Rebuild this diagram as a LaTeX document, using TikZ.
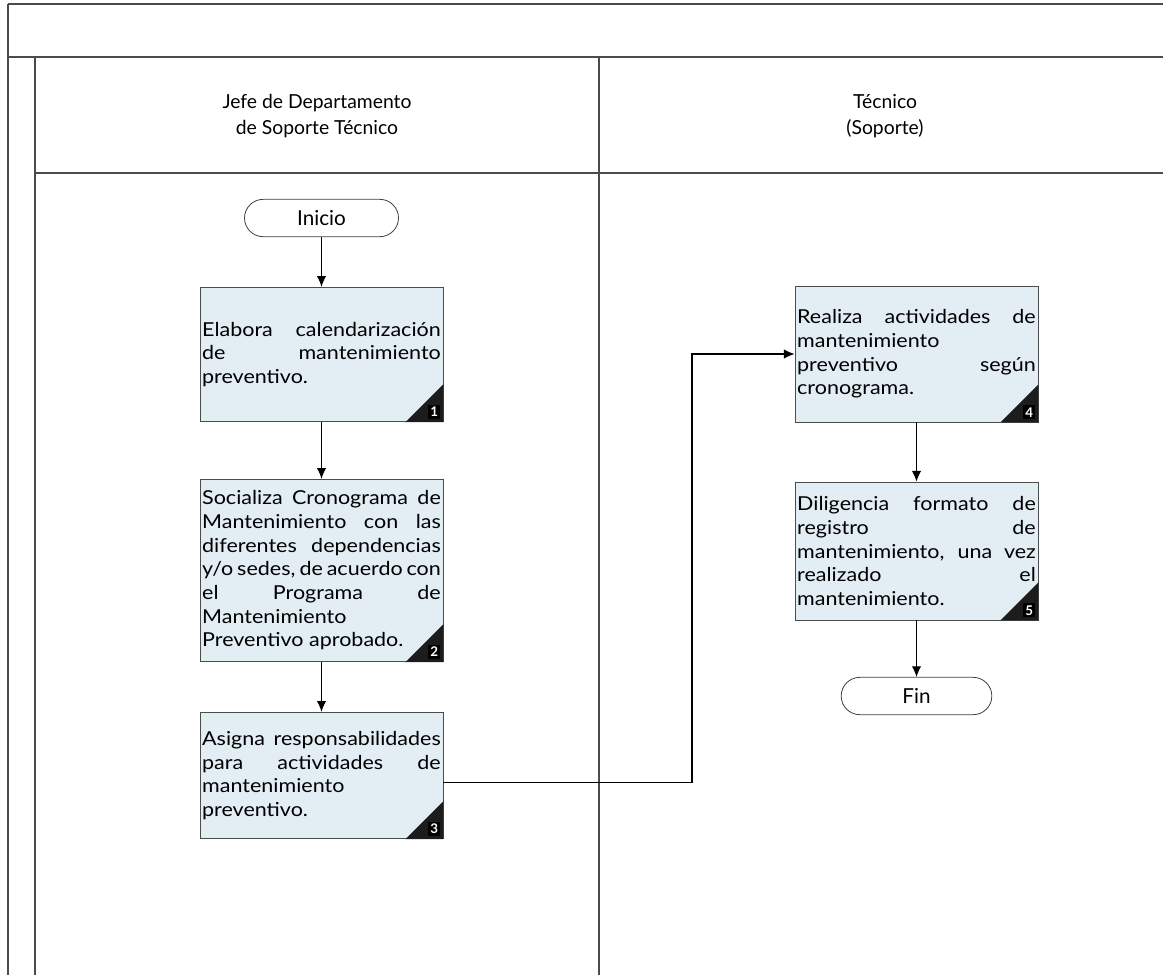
\documentclass[tikz,border=0pt]{standalone}
\usepackage{fontspec}
\setmainfont{Lato}[FakeStretch=1.12]
\newfontfamily\plainfont{Lato}
\usetikzlibrary{arrows.meta,calc}
\definecolor{boxfill}{RGB}{226,237,244}
\definecolor{framec}{RGB}{75,75,75}
\definecolor{cornerc}{RGB}{28,28,28}
\hyphenpenalty=10000
\exhyphenpenalty=10000
\tikzset{
  laneline/.style={draw=framec,line width=1pt},
  proc/.style={draw=black!70,line width=0.6pt,fill=boxfill,minimum width=182.25pt,
    text width=179pt,align=justify,inner xsep=1.6pt,inner ysep=2pt,
    font=\fontsize{14.4}{17.75}\selectfont},
  term/.style={draw=black!75,line width=0.6pt,rounded corners=14pt,minimum width=115pt,
    minimum height=28pt,inner sep=0pt,font=\plainfont\fontsize{15.5}{17}\selectfont},
  flow/.style={draw=black,line width=0.8pt,-{Latex[length=8pt,width=7pt]}},
  hdr/.style={align=center,font=\plainfont\fontsize{14.5}{19}\selectfont},
  badge/.style={fill=black,text=white,font=\plainfont\bfseries\fontsize{10}{10}\selectfont,inner sep=1.5pt}
}
\newcommand{\cornermark}[2]{%
  \fill[cornerc] (#1.south east) -- ++(-38,0) -- ++(38,-38) -- cycle;
  \node[badge,anchor=south east] (#1num) at ($(#1.south east)+(-3,-3)$) {#2};}
\begin{document}
\begin{tikzpicture}[x=0.75pt,y=-0.75pt]
\useasboundingbox (0,0) rectangle (1163,975);
% frame
\draw[laneline,line width=1.3pt] (8,4) -- (1163,4);
\draw[laneline] (8,57) -- (1163,57);
\draw[laneline] (35,173) -- (1163,173);
\draw[laneline] (8,4) -- (8,975);
\draw[laneline] (35,57) -- (35,975);
\draw[laneline] (599,57) -- (599,975);
% headers
\node[hdr] (h1) at (317,116) {Jefe de Departamento\\de Soporte Técnico};
\node[hdr] (h2) at (885,116) {Técnico\\(Soporte)};
% nodes
\node[term,minimum width=115.5pt] (ini) at (321.5,218) {Inicio};
\node[proc,minimum height=101pt] (b1) at (321.5,354.5) {Elabora calendarización\linebreak de mantenimiento\linebreak preventivo.};
\node[proc,minimum height=137pt] (b2) at (321.5,570.5) {Socializa Cronograma de\linebreak Mantenimiento con las\linebreak diferentes dependencias\linebreak {\spaceskip=0.16em plus 0.2em minus 0.08em y/o sedes, de acuerdo con}\linebreak el Programa de\linebreak Mantenimiento\newline Preventivo aprobado.};
\node[proc,minimum height=95pt] (b3) at (321.5,775.5) {Asigna responsabilidades\linebreak para actividades de\linebreak mantenimiento\newline preventivo.};
\node[proc,minimum height=102pt] (b4) at (916.5,354) {Realiza actividades de\linebreak mantenimiento\newline preventivo según\linebreak cronograma.};
\node[proc,minimum height=103.5pt] (b5) at (916.5,551) {Diligencia formato de\linebreak registro de\linebreak mantenimiento, una vez\linebreak realizado el\linebreak mantenimiento.};
\node[term,minimum width=113pt] (fin) at (916.5,696) {Fin};
\cornermark{b1}{1}
\cornermark{b2}{2}
\cornermark{b3}{3}
\cornermark{b4}{4}
\cornermark{b5}{5}
% connectors
\coordinate (j) at (692,354);
\draw[flow] (ini.south) -- (b1.north);
\draw[flow] (b1.south) -- (b2.north);
\draw[flow] (b2.south) -- (b3.north);
\draw[flow] ([yshift=-5pt]b3.east) -| (j) -- (b4.west);
\draw[flow] (b4.south) -- (b5.north);
\draw[flow] (b5.south) -- (fin.north);
\end{tikzpicture}
\end{document}
